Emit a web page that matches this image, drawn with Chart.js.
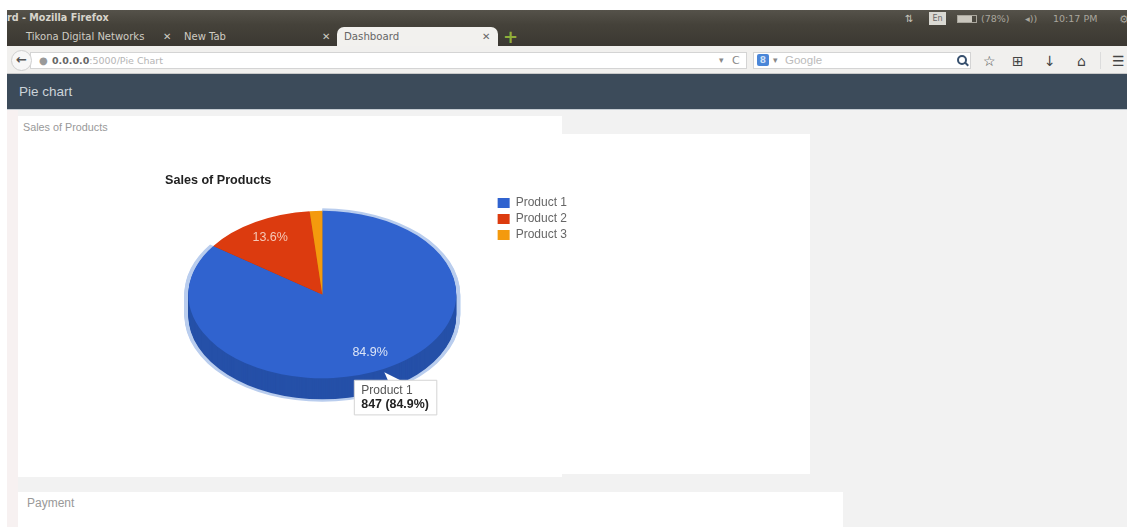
<!DOCTYPE html>
<html>
<head>
<meta charset="utf-8">
<title>Dashboard</title>
<script src="https://cdn.jsdelivr.net/npm/chart.js@4/dist/chart.umd.min.js"></script>
<style>
  html, body { margin: 0; padding: 0; }
  body { width: 1127px; height: 527px; position: relative; overflow: hidden; background: #f2f2f2;
         font-family: "Liberation Sans", Arial, sans-serif; }
  .abs { position: absolute; white-space: nowrap; }
  #topStrip { left: 0; top: 0; width: 1127px; height: 10px; background: #fff; }
  #leftStrip { left: 0; top: 0; width: 7px; height: 527px; background: #fff; }
  #gutter { left: 7px; top: 110px; width: 11px; height: 417px; background: #f7f1f1; }
  #titleBar { left: 7px; top: 10px; width: 1120px; height: 36px;
              background: linear-gradient(#55524a 0, #45423a 40%, #3b3832 100%); }
  #winTitle { left: 7px; top: 12px; font: bold 9.6px "DejaVu Sans"; color: #d8d5cc; }
  .tabLabel { top: 31px; font: 10px "DejaVu Sans"; color: #cfccc3; }
  #activeTab { left: 337px; top: 27px; width: 161px; height: 20px; background: #f2f1ee;
               border-radius: 7px 7px 0 0; }
  #tabText { left: 344px; top: 31px; font: 10.2px "DejaVu Sans"; color: #666; }
  #toolbar { left: 7px; top: 46px; width: 1120px; height: 28px; background: #f1f0ee;
             border-bottom: 1px solid #c9c9c9; box-sizing: border-box; }
  #urlBox { left: 30px; top: 52px; width: 717px; height: 17px; background: #fff;
            border: 1px solid #d4d4d4; box-sizing: border-box; }
  #urlGlobe { left: 39px; top: 55px; font: 10px "DejaVu Sans"; color: #999; }
  #urlText { left: 52px; top: 55px; font: 9.5px "DejaVu Sans"; color: #b5b5b5; }
  #urlText b { color: #666; }
  #urlDrop { left: 719px; top: 55px; font: 9px "DejaVu Sans"; color: #888; }
  #urlReload { left: 732px; top: 54px; font: 11px "DejaVu Sans"; color: #888; }
  #backBtn { left: 11px; top: 50px; width: 21px; height: 21px; border-radius: 50%; background: #f7f7f7;
             border: 1px solid #cfcfcf; box-sizing: border-box; text-align: center;
             font: bold 13px/18px "DejaVu Sans"; color: #555; }
  #searchBox { left: 753px; top: 52px; width: 218px; height: 17px; background: #fff;
               border: 1px solid #d4d4d4; box-sizing: border-box; }
  #searchG { left: 757px; top: 54px; width: 12px; height: 12px; background: #4a86d8; border-radius: 2px;
             color: #cfe0f7; font: bold 9px/12px "DejaVu Sans"; text-align: center; }
  #searchDrop { left: 773px; top: 55px; font: 9px "DejaVu Sans"; color: #888; }
  #searchText { left: 785px; top: 54px; font: 11.5px "Liberation Sans"; color: #bbb; }
  #lens { left: 957px; top: 55px; width: 6px; height: 6px; border: 2px solid #37506e; border-radius: 50%; }
  #lensHandle { left: 964px; top: 63px; width: 5px; height: 2px; background: #37506e; transform: rotate(45deg); }
  .tool { top: 53px; font: 14px "DejaVu Sans"; color: #444; }
  #toolSep { left: 1100px; top: 52px; width: 1px; height: 17px; background: #dcdcdc; }
  .trayItem { top: 13px; font: 9.5px "DejaVu Sans"; color: #a9a69d; }
  #enBadge { left: 929px; top: 12px; width: 17px; height: 13px; background: #d9d8d2; color: #666;
             font: 8px/13px "DejaVu Sans"; text-align: center; }
  #battery { left: 957px; top: 15px; width: 18px; height: 6px; border: 1px solid #a9a69d;
             background: linear-gradient(90deg, #c9c6bd 78%, transparent 78%); }
  #nav { left: 7px; top: 74px; width: 1120px; height: 35px; background: #3c4b5a;
         border-bottom: 1px solid #c5ccd2; }
  #navText { left: 19px; top: 84px; font: 13.5px "Liberation Sans"; color: #ccd3d9; }
  .card { background: #fff; }
  #cardBack { left: 562px; top: 134px; width: 248px; height: 340px; }
  #cardMain { left: 18px; top: 116px; width: 544px; height: 361px; }
  #cardMainLabel { left: 23px; top: 121px; font: 10.8px "Liberation Sans"; color: #999; }
  #cardPay { left: 18px; top: 492px; width: 825px; height: 35px; }
  #cardPayLabel { left: 27px; top: 496px; font: 12px "Liberation Sans"; color: #999; }
  #chartBox { left: 165px; top: 171px; width: 412px; height: 294px; }
</style>
</head>
<body>
  <div class="abs" id="topStrip"></div>
  <div class="abs" id="titleBar"></div>
  <div class="abs" id="leftStrip"></div>
  <div class="abs" id="gutter"></div>
  <div class="abs" id="winTitle">rd - Mozilla Firefox</div>
  <div class="abs tabLabel" style="left:26px">Tikona Digital Networks</div>
  <div class="abs tabLabel" style="left:163px">&#10005;</div>
  <div class="abs tabLabel" style="left:184px">New Tab</div>
  <div class="abs tabLabel" style="left:322px">&#10005;</div>
  <div class="abs" id="activeTab"></div>
  <div class="abs" id="tabText">Dashboard</div>
  <div class="abs tabLabel" style="left:482px;color:#666">&#10005;</div>
  <div class="abs" style="left:503px;top:26px;font:bold 18px 'DejaVu Sans';color:#8fae3a">+</div>
  <div class="abs trayItem" style="left:905px;font-size:10px;color:#c9c6bd">&#8645;</div>
  <div class="abs" id="enBadge">En</div>
  <div class="abs" id="battery"></div>
  <div class="abs trayItem" style="left:981px">(78%)</div>
  <div class="abs trayItem" style="left:1025px">&#9666;))</div>
  <div class="abs trayItem" style="left:1053px">10:17 PM</div>
  <div class="abs trayItem" style="left:1119px;font-size:11px">&#9881;</div>
  <div class="abs" id="toolbar"></div>
  <div class="abs" id="urlBox"></div>
  <div class="abs" id="backBtn">&#8592;</div>
  <div class="abs" id="urlGlobe">&#9679;</div>
  <div class="abs" id="urlText"><b>0.0.0.0</b>:5000/Pie Chart</div>
  <div class="abs" id="urlDrop">&#9662;</div>
  <div class="abs" id="urlReload">C</div>
  <div class="abs" id="searchBox"></div>
  <div class="abs" id="searchG">8</div>
  <div class="abs" id="searchDrop">&#9662;</div>
  <div class="abs" id="searchText">Google</div>
  <div class="abs" id="lens"></div>
  <div class="abs" id="lensHandle"></div>
  <div class="abs tool" style="left:983px">&#9734;</div>
  <div class="abs tool" style="left:1012px">&#8862;</div>
  <div class="abs tool" style="left:1044px">&#8595;</div>
  <div class="abs tool" style="left:1077px">&#8962;</div>
  <div class="abs" id="toolSep"></div>
  <div class="abs tool" style="left:1112px">&#9776;</div>
  <div class="abs" id="nav"></div>
  <div class="abs" id="navText">Pie chart</div>
  <div class="abs card" id="cardBack"></div>
  <div class="abs card" id="cardMain"></div>
  <div class="abs" id="cardMainLabel">Sales of Products</div>
  <div class="abs card" id="cardPay"></div>
  <div class="abs" id="cardPayLabel">Payment</div>
  <div class="abs" id="chartBox"><canvas id="salesChart"></canvas></div>

<script>
// Product sales shown on the dashboard
const chartTitle = 'Sales of Products';
const products = ['Product 1', 'Product 2', 'Product 3'];
const sales = [847, 136, 15];
const sliceColors = ['#3063cf', '#dc3b0f', '#f49a0d'];
const wallColors = ['#2550a8', '#a82c0a', '#b87408'];
const activeProduct = 0;

// Perspective of the tilted pie
const tilt = 0.625;
const wallDepth = 21;
const haloWidth = 4;
const haloColor = '#b9cdee';
const pieShiftX = -7;
const pieShiftY = -36.5;

// Applies the squash that turns the round pie into a tilted disc
function applyTilt(ctx, arc, dy) {
  ctx.translate(arc.x + pieShiftX, arc.y + pieShiftY + dy);
  ctx.scale(1, tilt);
  ctx.translate(-arc.x, -arc.y);
}

function traceSlice(ctx, arc, extra) {
  ctx.beginPath();
  ctx.moveTo(arc.x, arc.y);
  ctx.arc(arc.x, arc.y, arc.outerRadius + extra, arc.startAngle, arc.endAngle);
  ctx.closePath();
}

const tiltedPie = {
  id: 'tiltedPie',
  beforeDatasetsDraw(chart) {
    const ctx = chart.ctx;
    const arcs = chart.getDatasetMeta(0).data;

    // Halo around the highlighted slice, following its wall as well
    const active = arcs[activeProduct];
    ctx.fillStyle = haloColor;
    for (let dy = 0; dy <= wallDepth; dy++) {
      ctx.save();
      applyTilt(ctx, active, dy);
      traceSlice(ctx, active, haloWidth);
      ctx.fill();
      ctx.restore();
    }

    // Side wall of the disc
    arcs.forEach((arc, i) => {
      ctx.fillStyle = wallColors[i];
      for (let dy = wallDepth; dy > 0; dy--) {
        ctx.save();
        applyTilt(ctx, arc, dy);
        traceSlice(ctx, arc, 0);
        ctx.fill();
        ctx.restore();
      }
    });

    // The library then draws the top face through this transform
    ctx.save();
    applyTilt(ctx, arcs[0], 0);
  },
  afterDatasetsDraw(chart) {
    const ctx = chart.ctx;
    ctx.restore();
    const arcs = chart.getDatasetMeta(0).data;
    const total = sales.reduce((a, b) => a + b, 0);

    // Percentage labels on slices large enough to hold them
    ctx.font = '12.5px "Liberation Sans"';
    ctx.textAlign = 'center';
    ctx.textBaseline = 'middle';
    arcs.forEach((arc, i) => {
      const share = sales[i] / total;
      if (share < 0.05) return;
      ctx.fillStyle = i === 0 ? '#dbe4f6' : '#f5c9b8';
      const mid = (arc.startAngle + arc.endAngle) / 2;
      const r = arc.outerRadius * 0.78;
      ctx.fillText((share * 100).toFixed(1) + '%',
        arc.x + pieShiftX + Math.cos(mid) * r,
        arc.y + pieShiftY + Math.sin(mid) * r * tilt);
    });

    // Pointer joining the tooltip to the highlighted slice
    const tip = chart.tooltip;
    if (tip && tip.opacity > 0) {
      ctx.fillStyle = '#fff';
      ctx.beginPath();
      ctx.moveTo(tip.x + 30, tip.y - 8);
      ctx.lineTo(tip.x + 48, tip.y + 1);
      ctx.lineTo(tip.x + 34, tip.y + 1);
      ctx.closePath();
      ctx.fill();
    }
  }
};

// Tooltip hangs just below the rim of the highlighted slice
Chart.Tooltip.positioners.belowSlice = function (items) {
  if (!items.length) return false;
  const arc = items[0].element;
  return { x: arc.x + pieShiftX + 32, y: arc.y + pieShiftY + arc.outerRadius * tilt };
};

const total = sales.reduce((a, b) => a + b, 0);
const chart = new Chart(document.getElementById('salesChart'), {
  type: 'pie',
  data: {
    labels: products,
    datasets: [{ data: sales, backgroundColor: sliceColors, borderWidth: 0, hoverOffset: 0,
                 hoverBackgroundColor: sliceColors }]
  },
  options: {
    responsive: true,
    maintainAspectRatio: false,
    animation: false,
    events: [],
    layout: { padding: 0 },
    plugins: {
      title: {
        display: true, text: chartTitle, align: 'start', color: '#222',
        font: { family: '"Liberation Sans"', size: 12.6, weight: 'bold' },
        padding: { top: 2, bottom: 9 }
      },
      legend: {
        position: 'right', align: 'start',
        // Blank heading keeps the entries level with the upper part of the disc
        title: { display: true, text: ' ', font: { size: 1, lineHeight: 1 }, padding: { top: 21, bottom: 0 } },
        labels: {
          color: '#666', boxWidth: 12, boxHeight: 10, padding: 4,
          font: { family: '"Liberation Sans"', size: 12 }
        }
      },
      tooltip: {
        enabled: true,
        position: 'belowSlice',
        xAlign: 'left', yAlign: 'top',
        caretSize: 0,
        backgroundColor: '#ffffff',
        borderColor: '#d4d4d4', borderWidth: 1, cornerRadius: 0,
        titleColor: '#555', titleFont: { family: '"Liberation Sans"', size: 12, weight: 'normal', lineHeight: 1.05 },
        titleMarginBottom: 1,
        bodyColor: '#222', bodyFont: { family: '"Liberation Sans"', size: 12.4, weight: 'bold', lineHeight: 1.05 },
        padding: { left: 7, right: 8, top: 4, bottom: 4 },
        displayColors: false,
        callbacks: {
          label: item => item.raw + ' (' + (item.raw / total * 100).toFixed(1) + '%)'
        }
      }
    }
  },
  plugins: [tiltedPie]
});

chart.tooltip.setActiveElements([{ datasetIndex: 0, index: activeProduct }], { x: 0, y: 0 });
chart.update();
</script>
</body>
</html>
